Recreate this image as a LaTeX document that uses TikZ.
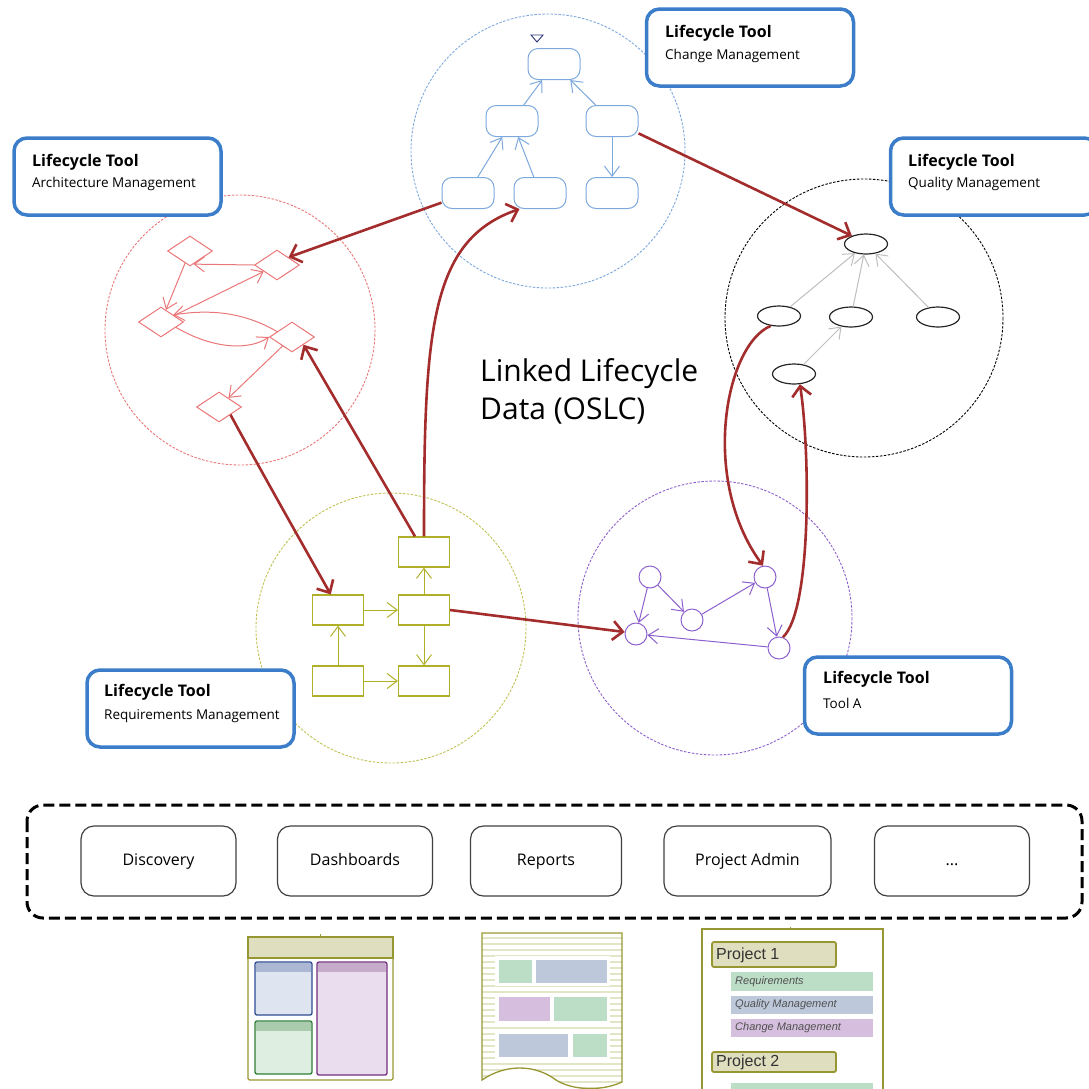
\documentclass[tikz,border=0pt]{standalone}
\usepackage{fontspec}
\setmainfont{Open Sans}
\newfontfamily\iconfont{Liberation Sans}
\usetikzlibrary{arrows.meta,shapes.geometric}

\definecolor{toolblue}{RGB}{59,125,201}
\definecolor{linkred}{RGB}{163,44,44}
\definecolor{chgblue}{RGB}{125,168,222}
\definecolor{archred}{RGB}{234,118,120}
\definecolor{reqolive}{RGB}{176,176,40}
\definecolor{toolpurple}{RGB}{140,95,205}
\definecolor{qualgray}{RGB}{190,190,190}
\definecolor{navy}{RGB}{40,50,120}
\definecolor{iconolive}{RGB}{150,150,50}
\definecolor{iconfill}{RGB}{223,223,192}
\definecolor{panelblue}{RGB}{45,75,145}
\definecolor{panelbluefill}{RGB}{222,228,240}
\definecolor{panelgreen}{RGB}{45,125,55}
\definecolor{panelgreenfill}{RGB}{222,238,224}
\definecolor{panelpurple}{RGB}{115,45,125}
\definecolor{panelpurplefill}{RGB}{234,222,238}
\definecolor{stripe}{RGB}{226,229,198}
\definecolor{blockgreen}{RGB}{188,221,198}
\definecolor{blockblue}{RGB}{189,201,219}
\definecolor{blockpurple}{RGB}{214,191,222}
\definecolor{rowtext}{RGB}{80,80,80}

\begin{document}
\begin{tikzpicture}[x=1pt,y=-1pt,
    toolbox/.style={draw=toolblue, line width=3.5pt, rounded corners=13pt, fill=white,
        minimum width=207pt, minimum height=77pt},
    tooltitle/.style={anchor=west, inner sep=0pt, font=\fontsize{16}{19}\selectfont\bfseries},
    toolsub/.style={anchor=west, inner sep=0pt, font=\fontsize{13.5}{16}\selectfont},
    zone/.style={line width=0.9pt, dash pattern=on 2.5pt off 1.5pt},
    chgnode/.style={draw=chgblue, line width=1pt, rounded corners=10pt,
        minimum width=52pt, minimum height=31pt, inner sep=0pt},
    archnode/.style={draw=archred, line width=1pt, diamond,
        minimum width=45pt, minimum height=30pt, inner sep=0pt},
    qualnode/.style={draw=black!85, line width=1.2pt, ellipse,
        minimum width=43pt, minimum height=20pt, inner sep=0pt},
    reqnode/.style={draw=reqolive, line width=1.2pt,
        minimum width=51pt, minimum height=30pt, inner sep=0pt},
    anode/.style={draw=toolpurple, line width=1pt, circle, minimum size=22pt, inner sep=0pt},
    flow/.style={line width=1pt, -{Straight Barb[length=10pt,width=15pt]}},
    link/.style={draw=linkred, line width=2.6pt, -{Straight Barb[length=10pt,width=19pt]}},
    appbox/.style={draw=black!75, line width=1.2pt, rounded corners=13pt,
        minimum width=155pt, minimum height=70pt, text height=12pt, text depth=4pt,
        font=\fontsize{16}{19}\selectfont},
    panel/.style={line width=1.3pt, rounded corners=2pt},
    block/.style={draw=white, line width=1pt},
    projtext/.style={anchor=west, inner sep=0pt, font=\iconfont\fontsize{16}{18}\selectfont, text=black!80},
    rowlabel/.style={anchor=west, inner sep=0pt, font=\iconfont\itshape\fontsize{11}{13}\selectfont, text=rowtext},
]
    \useasboundingbox (0,0) rectangle (1089,1088);

    % Tool zones
    \draw[zone, chgblue] (548,151) circle (137);
    \draw[zone, archred] (240,330) circle (135);
    \draw[zone, black] (864,318) circle (139);
    \draw[zone, reqolive!80] (391,628) circle (135);
    \draw[zone, toolpurple] (715,618) circle (137);

    % Tool labels
    \node[toolbox] (chgbox) at (750,47.5) {};
    \node[tooltitle] (chgtitle) at (665,33) {Lifecycle Tool};
    \node[toolsub] (chgsub) at (665,56) {Change Management};

    \node[toolbox] (archbox) at (117.5,176.5) {};
    \node[tooltitle] (archtitle) at (32,162) {Lifecycle Tool};
    \node[toolsub] (archsub) at (32,184) {Architecture Management};

    \node[toolbox] (qualbox) at (994,176.5) {};
    \node[tooltitle] (qualtitle) at (908,162) {Lifecycle Tool};
    \node[toolsub] (qualsub) at (908,184) {Quality Management};

    \node[toolbox] (reqbox) at (190.5,708.5) {};
    \node[tooltitle] (reqtitle) at (104,692) {Lifecycle Tool};
    \node[toolsub] (reqsub) at (104,716) {Requirements Management};

    \node[toolbox] (abox) at (908,695.5) {};
    \node[tooltitle] (atitle) at (823,679) {Lifecycle Tool};
    \node[toolsub] (asub) at (823,703) {Tool A};

    % Change management items
    \draw[navy, line width=0.9pt] (531,35) -- (543,35) -- (537,42) -- cycle;
    \node[chgnode] (chgtop) at (554,64) {};
    \node[chgnode] (chgml) at (512,121) {};
    \node[chgnode] (chgmr) at (612,121) {};
    \node[chgnode] (chgbl) at (468,193) {};
    \node[chgnode] (chgbm) at (540,193) {};
    \node[chgnode] (chgbr) at (612,193) {};
    \draw[flow, chgblue] (chgml) -- (chgtop);
    \draw[flow, chgblue] (chgmr) -- (chgtop);
    \draw[flow, chgblue] (chgbl) -- (chgml);
    \draw[flow, chgblue] (chgbm) -- (chgml);
    \draw[flow, chgblue] (chgmr) -- (chgbr);

    % Architecture items
    \node[archnode] (archa) at (190,251) {};
    \node[archnode] (archb) at (277,265) {};
    \node[archnode] (archc) at (161,322) {};
    \node[archnode] (archd) at (292,337) {};
    \node[archnode] (arche) at (219,407) {};
    \draw[flow, archred] (archb.west) -- (archa.-75);
    \draw[flow, archred] (archa) -- (archc);
    \draw[flow, archred] (archc) -- (archb);
    \draw[flow, archred] (archd.160) .. controls (240,310) and (205,310) .. (archc.30);
    \draw[flow, archred] (archc.-20) .. controls (215,350) and (250,350) .. (archd.west);
    \draw[flow, archred] (archd) -- (arche);

    % Quality items
    \node[qualnode] (qualtop) at (866,244) {};
    \node[qualnode] (qualleft) at (779,316) {};
    \node[qualnode] (qualmid) at (851,317) {};
    \node[qualnode] (qualright) at (938,317) {};
    \node[qualnode] (quallow) at (794,374) {};
    \draw[flow, qualgray] (qualleft) -- (qualtop);
    \draw[flow, qualgray] (qualmid) -- (qualtop);
    \draw[flow, qualgray] (qualright) -- (qualtop);
    \draw[flow, qualgray] (quallow) -- (qualmid);

    % Requirements items
    \node[reqnode] (reqtop) at (424,552) {};
    \node[reqnode] (reqleft) at (338,610) {};
    \node[reqnode] (reqmid) at (424,610) {};
    \node[reqnode] (reqlowl) at (338,681) {};
    \node[reqnode] (reqlowr) at (424,681) {};
    \draw[flow, reqolive] (reqleft) -- (reqmid);
    \draw[flow, reqolive] (reqmid) -- (reqtop);
    \draw[flow, reqolive] (reqmid) -- (reqlowr);
    \draw[flow, reqolive] (reqlowl) -- (reqleft);
    \draw[flow, reqolive] (reqlowl) -- (reqlowr);

    % Tool A items
    \node[anode] (anodea) at (650,577) {};
    \node[anode] (anodeb) at (636,634) {};
    \node[anode] (anodec) at (692,620) {};
    \node[anode] (anoded) at (765,577) {};
    \node[anode] (anodee) at (779,648) {};
    \draw[flow, toolpurple] (anodea) -- (anodeb);
    \draw[flow, toolpurple] (anodea) -- (anodec);
    \draw[flow, toolpurple] (anodec) -- (anoded);
    \draw[flow, toolpurple] (anoded) -- (anodee);
    \draw[flow, toolpurple] (anodee) -- (anodeb);

    % Links between tools
    \draw[link] (chgbl.200) -- (archb.north east);
    \draw[link] (chgmr.-25) -- (qualtop.150);
    \draw[link] (reqtop.north) .. controls (424,330) and (430,240) .. (chgbm.218);
    \draw[link] (reqtop.120) -- (archd.south east);
    \draw[link] (arche.south east) .. controls (255,460) and (300,540) .. (reqleft.115);
    \draw[link] (reqmid.east) -- (anodeb.170);
    \draw[link] (qualleft.230) .. controls (725,345) and (700,480) .. (anoded.100);
    \draw[link] (anodee.70) .. controls (812,610) and (810,450) .. (quallow.-60);

    % Caption
    \node[anchor=west, inner sep=0pt, font=\fontsize{30}{38}\selectfont, align=left] (oslc) at (480,391)
        {Linked Lifecycle\\Data (OSLC)};

    % Common services
    \draw[line width=3pt, dash pattern=on 11pt off 5pt, rounded corners=16pt] (27,805) rectangle (1082,918);
    \node[appbox] (discovery) at (158.5,861) {Discovery};
    \node[appbox] (dashboards) at (355,861) {Dashboards};
    \node[appbox, minimum width=151pt] (reports) at (546,861) {Reports};
    \node[appbox, minimum width=167pt] (projadmin) at (747.5,861) {Project Admin};
    \node[appbox] (more) at (952,861) {...};

    % Dashboard icon
    \draw[iconolive, line width=1.3pt, rounded corners=1.5pt] (248,937) rectangle (393,1080);
    \draw[iconolive, fill=iconfill, line width=1.3pt] (248,937) rectangle (393,958);
    \draw[iconolive, line width=1pt] (320,934) -- (320,937);
    \draw[panel, panelblue, fill=panelbluefill] (255,962) rectangle (312,1015);
    \fill[panelblue!40] (256,963) rectangle (311,972);
    \draw[panel, panelgreen, fill=panelgreenfill] (255,1021) rectangle (312,1074);
    \fill[panelgreen!40] (256,1022) rectangle (311,1031);
    \draw[panel, panelpurple, fill=panelpurplefill] (317,962) rectangle (387,1075);
    \fill[panelpurple!40] (318,963) rectangle (386,972);

    % Report icon
    \begin{scope}
        \clip (482,933) -- (622,933) -- (622,1082) .. controls (600,1092) and (572,1090) .. (556,1080)
            .. controls (535,1064) and (505,1064) .. (482,1080) -- cycle;
        \foreach \y in {938,944,...,1088}
            \draw[stripe, line width=2.6pt] (478,\y) -- (626,\y);
    \end{scope}
    \draw[iconolive, line width=1.3pt] (482,933) -- (622,933) -- (622,1082) .. controls (600,1092) and (572,1090) .. (556,1080)
        .. controls (535,1064) and (505,1064) .. (482,1080) -- cycle;
    \fill[white] (495,956) rectangle (610,986);
    \fill[white] (495,993) rectangle (610,1024);
    \fill[white] (495,1030) rectangle (610,1060);
    \draw[block, fill=blockgreen] (498,959) rectangle (532,983);
    \draw[block, fill=blockblue] (535,959) rectangle (607,983);
    \draw[block, fill=blockpurple] (498,996) rectangle (550,1021);
    \draw[block, fill=blockgreen] (553,996) rectangle (607,1021);
    \draw[block, fill=blockblue] (498,1033) rectangle (568,1057);
    \draw[block, fill=blockgreen] (572,1033) rectangle (607,1057);

    % Project admin icon
    \draw[iconolive, line width=1.3pt] (702,1095) -- (702,929) -- (883,929) -- (883,1095);
    \draw[iconolive, line width=1pt] (790,927) -- (790,930);
    \draw[iconolive, fill=iconfill, line width=1.8pt, rounded corners=2pt] (712,942) rectangle (836,967);
    \node[projtext] (projone) at (716,955) {Project 1};
    \fill[blockgreen] (731,972) rectangle (873,991);
    \node[rowlabel] (reqrow) at (735,981.5) {Requirements};
    \fill[blockblue] (731,996) rectangle (873,1014);
    \node[rowlabel] (qualrow) at (735,1005) {Quality Management};
    \fill[blockpurple] (731,1019) rectangle (873,1037);
    \node[rowlabel] (chgrow) at (735,1028) {Change Management};
    \draw[iconolive, fill=iconfill, line width=1.8pt, rounded corners=2pt] (712,1052) rectangle (836,1072);
    \node[projtext] (projtwo) at (716,1062) {Project 2};
    \fill[blockgreen] (731,1083) rectangle (873,1100);
\end{tikzpicture}
\end{document}
